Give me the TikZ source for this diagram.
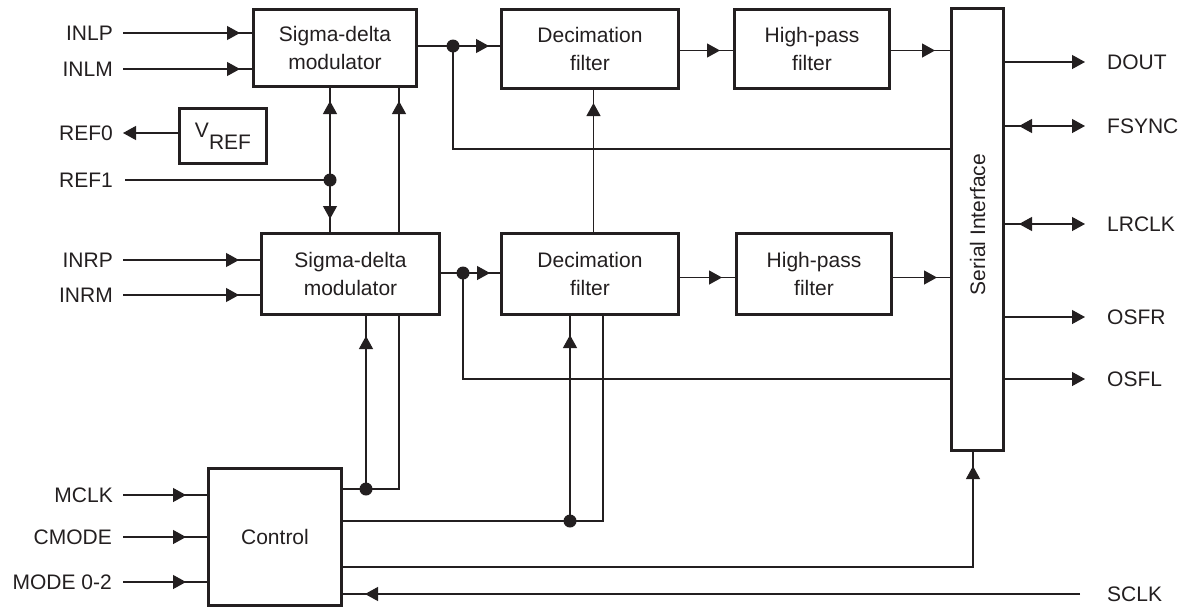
\documentclass[tikz,border=0pt]{standalone}
\usepackage{fontspec}
\setmainfont{Liberation Sans}
\usetikzlibrary{arrows.meta,decorations.markings}
\definecolor{ink}{HTML}{231F20}
\tikzset{
  Tri/.tip={Triangle[length=13pt,width=14pt]},
  blk/.style={draw=ink, line width=3pt, inner sep=0pt, align=center, anchor=north west,
    font=\fontsize{21}{28}\selectfont, text=ink},
  lbl/.style={inner sep=0pt, text height=15pt, text depth=0pt, font=\fontsize{21}{25}\selectfont, text=ink},
  wire/.style={draw=ink, line width=1.2pt},
  arrat/.style={postaction={decorate}, decoration={markings, mark=at position -#1pt with {\arrow{Tri}}}},
  arrst/.style={postaction={decorate}, decoration={markings, mark=at position #1pt with {\arrowreversed{Tri}}}},
  dot/.style={fill=ink, draw=none, circle, inner sep=0pt, minimum size=13pt},
}
\begin{document}
\begin{tikzpicture}[x=1pt,y=-1pt]
\useasboundingbox (0,0) rectangle (1186,606);
% blocks
\node[blk, minimum width=163pt, minimum height=77pt] (tsdm) at (252,8) {Sigma-delta\\modulator};
\node[blk, minimum width=178pt, minimum height=81pt] (bsdm) at (260,232) {Sigma-delta\\modulator};
\node[blk, minimum width=87pt, minimum height=55pt] (vref) at (178,107) {V\raisebox{-12pt}{REF}};
\node[blk, minimum width=177pt, minimum height=79pt] (tdec) at (500,8) {Decimation\\filter};
\node[blk, minimum width=177pt, minimum height=81pt] (bdec) at (500,232) {Decimation\\filter};
\node[blk, minimum width=155pt, minimum height=79pt] (thpf) at (733,8) {High-pass\\filter};
\node[blk, minimum width=155pt, minimum height=81pt] (bhpf) at (735,232) {High-pass\\filter};
\node[blk, minimum width=52pt, minimum height=442pt] (si) at (950,7) {};
\node[lbl, text height=, text depth=, rotate=90] (silbl) at ([yshift=5pt]si.center) {Serial Interface};
\node[blk, minimum width=133pt, minimum height=137pt] (ctrl) at (207,467) {Control};
% left labels
\node[lbl, anchor=east] (inlp) at (113,33) {INLP};
\node[lbl, anchor=east] (inlm) at (113,69) {INLM};
\node[lbl, anchor=east] (ref0) at (113,133) {REF0};
\node[lbl, anchor=east] (ref1) at (113,180) {REF1};
\node[lbl, anchor=east] (inrp) at (113,260) {INRP};
\node[lbl, anchor=east] (inrm) at (113,295) {INRM};
\node[lbl, anchor=east] (mclk) at (113,495) {MCLK};
\node[lbl, anchor=east] (cmode) at (112,537) {CMODE};
\node[lbl, anchor=east] (mode) at (112,582) {MODE 0-2};
% right labels
\node[lbl, anchor=west] (dout) at (1107,62) {DOUT};
\node[lbl, anchor=west] (fsync) at (1107,126) {FSYNC};
\node[lbl, anchor=west] (lrclk) at (1107,224) {LRCLK};
\node[lbl, anchor=west] (osfr) at (1107,317) {OSFR};
\node[lbl, anchor=west] (osfl) at (1107,379) {OSFL};
\node[lbl, anchor=west] (sclk) at (1107,594) {SCLK};
% junctions and corners
\coordinate (d1) at (330,180);
\coordinate (d2) at (366,489);
\coordinate (k2) at (399,489);
\coordinate (d3) at (570,521);
\coordinate (k3) at (603,521);
\coordinate (k4) at (973,567);
\coordinate (d4) at (453,46);
\coordinate (k5) at (453,149);
\coordinate (d5) at (463,273);
\coordinate (k6) at (463,379);
% inputs
\draw[wire, arrat=12] ([xshift=10pt]inlp.east) -- (inlp.east -| tsdm.west);
\draw[wire, arrat=12] ([xshift=10pt]inlm.east) -- (inlm.east -| tsdm.west);
\draw[wire, arrat=21] ([xshift=10pt]inrp.east) -- (inrp.east -| bsdm.west);
\draw[wire, arrat=21] ([xshift=10pt]inrm.east) -- (inrm.east -| bsdm.west);
\draw[wire, arrat=21] ([xshift=10pt]mclk.east) -- (mclk.east -| ctrl.west);
\draw[wire, arrat=21] ([xshift=11pt]cmode.east) -- (cmode.east -| ctrl.west);
\draw[wire, arrat=21] ([xshift=11pt]mode.east) -- (mode.east -| ctrl.west);
\draw[wire, -Tri] (ref0.east -| vref.west) -- ([xshift=10pt]ref0.east);
\draw[wire] ([xshift=12pt]ref1.east) -- (d1);
% reference distribution
\draw[wire, arrat=13] (d1) -- (d1 |- tsdm.south);
\draw[wire, arrat=13] (d1) -- (d1 |- bsdm.north);
\draw[wire, arrat=13] (k2 |- bsdm.north) -- (k2 |- tsdm.south);
% control clocks
\draw[wire] (ctrl.east |- d2) -- (k2) -- (k2 |- bsdm.south);
\draw[wire, arrat=20] (d2) -- (d2 |- bsdm.south);
\draw[wire] (ctrl.east |- d3) -- (k3) -- (k3 |- bdec.south);
\draw[wire, arrat=19] (d3) -- (d3 |- bdec.south);
\draw[wire, arrat=14] (ctrl.east |- k4) -- (k4) -- (k4 |- si.south);
\draw[wire, arrat=22] ([xshift=-27pt]sclk.west) -- (sclk.west -| ctrl.east);
% data path top
\draw[wire] (tsdm.east |- d4) -- (d4);
\draw[wire, arrat=11] (d4) -- (d4 -| tdec.west);
\draw[wire] (d4) -- (k5) -- (k5 -| si.west);
\draw[wire, arrat=13] ([yshift=-1.5pt]tdec.east) -- ([yshift=-1.5pt]tdec.east -| thpf.west);
\draw[wire, arrat=15] ([yshift=-1.5pt]thpf.east) -- ([yshift=-1.5pt]thpf.east -| si.west);
% data path bottom
\draw[wire] (bsdm.east |- d5) -- (d5);
\draw[wire, arrat=10] (d5) -- (d5 -| bdec.west);
\draw[wire] (d5) -- (k6) -- (k6 -| si.west);
\draw[wire, arrat=13] ([yshift=-3.5pt]bdec.east) -- ([yshift=-3.5pt]bdec.east -| bhpf.west);
\draw[wire, arrat=13] ([yshift=-3.5pt]bhpf.east) -- ([yshift=-3.5pt]bhpf.east -| si.west);
\draw[wire, arrat=13] ([xshift=3.5pt]bdec.north) -- ([xshift=3.5pt]tdec.south);
% outputs
\draw[wire, -Tri] (si.east |- dout) -- ([xshift=-22pt]dout.west);
\draw[wire, -Tri, arrst=14] (si.east |- fsync) -- ([xshift=-22pt]fsync.west);
\draw[wire, -Tri, arrst=14] (si.east |- lrclk) -- ([xshift=-22pt]lrclk.west);
\draw[wire, -Tri] (si.east |- osfr) -- ([xshift=-22pt]osfr.west);
\draw[wire, -Tri] (si.east |- osfl) -- ([xshift=-22pt]osfl.west);
% dots
\node[dot] (j1) at (d1) {};
\node[dot] (j2) at (d2) {};
\node[dot] (j3) at (d3) {};
\node[dot] (j4) at (d4) {};
\node[dot] (j5) at (d5) {};
\end{tikzpicture}
\end{document}
